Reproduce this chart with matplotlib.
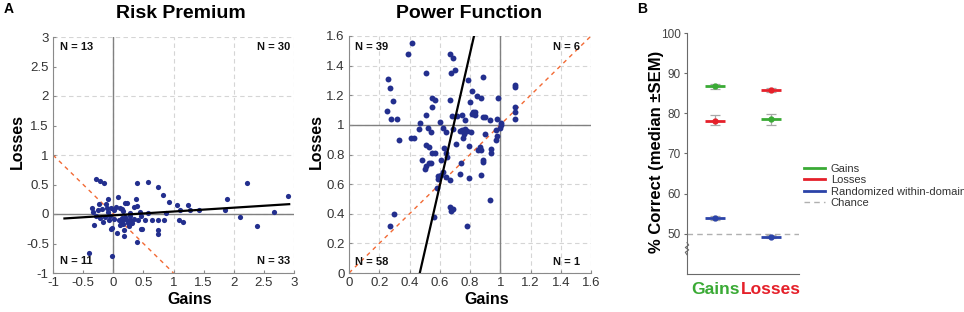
"""Risk premium / power function scatter and decoding accuracy panel."""

import numpy as _np
import matplotlib
matplotlib.use('Agg')
import matplotlib.pyplot as _plt
from matplotlib.ticker import FormatStrFormatter

_plt.rcParams['font.family'] = ['Liberation Sans', 'DejaVu Sans']
_plt.rcParams['axes.unicode_minus'] = False

# --- panel A, left: risk premium (gains vs losses) ---
risk_gains = [-0.29, -0.22, -0.15, -0.36, -0.34, -0.24, -0.25, -0.19, -0.12,
              -0.08, -0.10, -0.09, -0.03,
              -0.40, -0.02, -0.32, -0.22, -0.17, -0.07, -0.02, -0.03, -0.13,
              -0.28, -0.05,
              0.02, 0.08, 0.14, 0.20, 0.22, 0.34, 0.37, 0.39, 0.39, 0.57,
              0.74, 0.82, 0.88, 0.93, 1.05, 1.11, 1.24, 1.28, 1.42, 1.85,
              1.88, 2.22, 2.66, 2.90, 0.12, 0.16, 0.05, 0.28, 0.44, 0.58,
              0.02, 0.07, 0.15, 0.16, 0.17, 0.18, 0.18, 0.22, 0.24, 0.27,
              0.27, 0.31, 0.39, 0.41, 0.46, 0.46, 0.48, 0.53, 0.64, 0.74,
              0.74, 0.74, 0.84, 1.09, 1.15, 2.10, 2.39, 0.10, 0.13, 0.20,
              0.12, 0.26, 0.35]
risk_losses = [0.60, 0.56, 0.53, 0.11, 0.03, 0.17, 0.07, 0.08, 0.17,
               0.26, 0.10, 0.03, 0.10,
               -0.66, -0.71, -0.19, -0.07, -0.14, -0.10, -0.23, -0.26, -0.05,
               -0.03, -0.04,
               0.07, 0.28, 0.09, 0.18, 0.18, 0.12, 0.25, 0.13, 0.53, 0.54,
               0.46, 0.32, 0.01, 0.21, 0.16, 0.07, 0.15, 0.07, 0.07, 0.06,
               0.26, 0.53, 0.03, 0.31, 0.11, 0.05, 0.12, 0.02, 0.03, 0.02,
               -0.08, -0.32, -0.07, -0.11, -0.17, -0.27, -0.38, -0.10, -0.15,
               -0.04, -0.10, -0.15, -0.48, -0.11, -0.04, -0.26, -0.25, -0.11,
               -0.11, -0.11, -0.27, -0.34, -0.11, -0.11, -0.14, -0.05, -0.20,
               -0.10, -0.13, -0.05, -0.18, -0.20, -0.08]
risk_fit = (0.065, -0.023)        # slope, intercept (losses on gains)
risk_fit_range = [-0.81, 2.92]
risk_counts = ['N = 13', 'N = 30', 'N = 11', 'N = 33']

# --- panel A, right: power function exponents ---
power_gains = [0.417, 0.39, 0.26, 0.27, 0.29, 0.25, 0.28, 0.32, 0.51, 0.51,
               0.47, 0.55, 0.57, 0.55, 0.60, 0.667, 0.69, 0.70, 0.675, 0.665,
               0.68, 0.715, 0.745, 0.77, 0.786, 0.81, 0.80, 0.81, 0.82, 0.83,
               0.83, 0.845, 0.883, 0.876, 0.887, 0.90, 0.93, 0.985, 0.98,
               1.10, 1.10, 1.10, 1.10, 1.10, 1.006, 1.004,
               0.33, 0.41, 0.43, 0.46, 0.52, 0.54, 0.62, 0.64, 0.51, 0.53,
               0.55, 0.57, 0.48, 0.50, 0.51, 0.53, 0.54, 0.63, 0.64, 0.65,
               0.61, 0.62, 0.61, 0.59, 0.59, 0.58, 0.64, 0.67, 0.565, 0.67,
               0.675, 0.69, 0.30, 0.27, 0.78, 0.69, 0.705, 0.737, 0.748, 0.757,
               0.76, 0.77, 0.78, 0.74, 0.735, 0.795, 0.795, 0.807, 0.90, 0.867,
               0.876, 0.85, 0.883, 0.887, 0.876, 0.938, 0.936, 0.935, 0.973,
               0.97, 0.98, 0.996]
power_losses = [1.55, 1.476, 1.31, 1.25, 1.16, 1.095, 1.04, 1.04, 1.35, 1.07,
                1.01, 1.18, 1.165, 1.12, 1.02, 1.478, 1.45, 1.37, 1.35, 1.17,
                1.06, 1.06, 1.07, 1.03, 1.30, 1.23, 1.156, 1.075, 1.086, 1.086,
                1.064, 1.197, 1.32, 1.18, 1.05, 1.05, 1.03, 1.18, 1.037,
                1.27, 1.255, 1.12, 1.09, 1.04, 1.012, 0.996,
                0.895, 0.91, 0.91, 0.97, 0.98, 0.95, 0.98, 0.95, 0.865, 0.85,
                0.81, 0.81, 0.76, 0.70, 0.72, 0.74, 0.74, 0.845, 0.81, 0.78,
                0.76, 0.68, 0.66, 0.655, 0.635, 0.575, 0.65, 0.63, 0.38, 0.446,
                0.42, 0.43, 0.40, 0.32, 0.32, 0.97, 0.87, 0.96, 0.965, 0.91,
                0.94, 0.97, 0.96, 0.74, 0.67, 0.86, 0.64, 0.953, 0.94, 0.852,
                0.83, 0.83, 0.764, 0.75, 0.66, 0.834, 0.807, 0.49, 0.965,
                0.90, 0.924, 0.978]
power_fit = (0.468, 0.224)        # intercept, slope (gains on losses)
power_fit_range = [0.0, 1.6]
power_counts = ['N = 39', 'N = 6', 'N = 58', 'N = 1']

# --- panel B: decoding accuracy ---
domains = ['Gains', 'Losses']
acc_gains = [86.7, 78.5]
acc_gains_err = [[0.6, 1.4], [0.6, 1.3]]
acc_losses = [78.2, 85.8]
acc_losses_err = [[1.0, 0.5], [1.4, 0.5]]
acc_random = [54.0, 49.3]
acc_random_err = [[0.5, 0.4], [0.5, 0.4]]
chance = 50
series_names = ['Gains', 'Losses', 'Randomized within-domain', 'Chance']

_dot = '#232F8E'
_orange = '#F26A35'
_green = '#3AAA35'
_red = '#E5202A'
_blue = '#2B43A8'
_tick_col = '#333333'


def style_scatter_axes(ax, lims, ticks, grid):
    """Common MATLAB-like look for the scatter panels."""
    ax.set_xlim(lims[0])
    ax.set_ylim(lims[1])
    ax.set_xticks(ticks[0])
    ax.set_yticks(ticks[1])
    ax.xaxis.set_major_formatter(FormatStrFormatter('%g'))
    ax.yaxis.set_major_formatter(FormatStrFormatter('%g'))
    for g in grid[0]:
        ax.axvline(g, color='#D5D5D5', lw=0.8, ls=(0, (4, 3)), zorder=0)
    for g in grid[1]:
        ax.axhline(g, color='#D5D5D5', lw=0.8, ls=(0, (4, 3)), zorder=0)
    for side in ('top', 'right'):
        ax.spines[side].set_visible(False)
    for side in ('left', 'bottom'):
        ax.spines[side].set_color('#8A8A8A')
        ax.spines[side].set_linewidth(0.8)
    ax.tick_params(direction='in', length=2, color='#8A8A8A',
                   labelsize=9.5, labelcolor=_tick_col, pad=3)


def put_counts(ax, counts, xl, xr, yt, yb):
    """Quadrant counts in the four corners."""
    kw = dict(transform=ax.transAxes, fontsize=8, fontweight='bold',
              color='#111111', va='center')
    ax.text(xl, yt, counts[0], ha='left', **kw)
    ax.text(xr, yt, counts[1], ha='right', **kw)
    ax.text(xl, yb, counts[2], ha='left', **kw)
    ax.text(xr, yb, counts[3], ha='right', **kw)


fig = _plt.figure(figsize=(9.64, 3.12), dpi=100)
W, H = 964.0, 312.0

# risk premium
ax1 = fig.add_axes([53 / W, 39 / H, 241 / W, 236 / H])
style_scatter_axes(ax1, ((-1, 3), (-1, 3)),
                   (_np.arange(-1, 3.01, 0.5), _np.arange(-1, 3.01, 0.5)),
                   (range(-1, 4), range(-1, 4)))
ax1.axvline(0, color='#808080', lw=1, zorder=1)
ax1.axhline(0, color='#808080', lw=1, zorder=1)
ax1.plot([-1, 1], [1, -1], color=_orange, lw=1, ls=(0, (3, 3)), zorder=2)
ax1.scatter(risk_gains, risk_losses, s=14, color=_dot, lw=0, zorder=3)
fx = _np.array(risk_fit_range)
ax1.plot(fx, risk_fit[0] * fx + risk_fit[1], color='black', lw=1.6, zorder=4)
put_counts(ax1, risk_counts, 0.03, 0.983, 0.958, 0.05)

# power function
ax2 = fig.add_axes([349 / W, 39 / H, 242 / W, 237 / H])
pt = _np.round(_np.arange(0, 1.61, 0.2), 1)
style_scatter_axes(ax2, ((0, 1.6), (0, 1.6)), (pt, pt), (pt, pt))
ax2.axvline(1, color='#808080', lw=1, zorder=1)
ax2.axhline(1, color='#808080', lw=1, zorder=1)
ax2.plot([0, 1.6], [0, 1.6], color=_orange, lw=1, ls=(0, (3, 3)), zorder=2)
ax2.scatter(power_gains, power_losses, s=18, color=_dot, lw=0, zorder=3)
fy = _np.array(power_fit_range)
ax2.plot(power_fit[0] + power_fit[1] * fy, fy, color='black', lw=1.6,
         zorder=4)
put_counts(ax2, power_counts, 0.025, 0.955, 0.954, 0.046)

# titles and axis labels
fig.text(181 / W, 1 - 14 / H, 'Risk Premium', ha='center', va='center',
         fontsize=14, fontweight='bold')
fig.text(469 / W, 1 - 14 / H, 'Power Function', ha='center', va='center',
         fontsize=14, fontweight='bold')
for xc in (190, 487):
    fig.text(xc / W, 1 - 300 / H, 'Gains', ha='center', va='center',
             fontsize=11.5, fontweight='bold')
for xc in (17, 316):
    fig.text(xc / W, 1 - 142 / H, 'Losses', ha='center', va='center',
             fontsize=11.5, fontweight='bold', rotation=90)
fig.text(4 / W, 1 - 9 / H, 'A', ha='left', va='center', fontsize=10,
         fontweight='bold')
fig.text(637 / W, 1 - 9 / H, 'B', ha='left', va='center', fontsize=10,
         fontweight='bold')

# accuracy panel
ax3 = fig.add_axes([687 / W, 38 / H, 112 / W, 241 / H])
pos = _np.arange(1, len(domains) + 1)
half = 0.18
handles = []
for vals, err, col in ((acc_gains, acc_gains_err, _green),
                       (acc_losses, acc_losses_err, _red),
                       (acc_random, acc_random_err, _blue)):
    ax3.errorbar(pos, vals, yerr=err, fmt='none', ecolor='#A8A8A8',
                 elinewidth=0.9, capsize=3.5, capthick=0.9, zorder=2)
    ax3.hlines(vals, pos - half, pos + half, color=col, lw=2, zorder=3)
    ax3.plot(pos, vals, 'o', color=col, ms=3.5, zorder=4)
    handles.append(_plt.Line2D([], [], color=col, lw=2))
ax3.plot([0.5, 2.5], [chance, chance], color='#B0B0B0', lw=1,
         ls=(0, (4, 3)), zorder=1)
handles.append(_plt.Line2D([], [], color='#B0B0B0', lw=1, ls=(0, (4, 3))))
ax3.set_xlim(0.5, 2.5)
ax3.set_ylim(40, 100)
ax3.set_yticks(range(50, 101, 10))
ax3.set_xticks(pos)
ax3.set_xticklabels(domains, fontsize=12.5, fontweight='bold')
for lab, col in zip(ax3.get_xticklabels(), (_green, _red)):
    lab.set_color(col)
for side in ('top', 'right'):
    ax3.spines[side].set_visible(False)
for side in ('left', 'bottom'):
    ax3.spines[side].set_color('#6A6A6A')
    ax3.spines[side].set_linewidth(0.8)
ax3.tick_params(axis='y', direction='out', length=2.5, color='#6A6A6A',
                labelsize=8.5, labelcolor='#444444', pad=2)
ax3.tick_params(axis='x', length=0, pad=6)
# axis break marker
zz = _np.array([0, 1, -1, 1, -1, 0]) * 0.015
zy = _np.linspace(0.13, 0.08, 6)
ax3.plot(zz, zy, color='#6A6A6A', lw=0.8, transform=ax3.transAxes,
         clip_on=False)
fig.text(657 / W, 1 - 152 / H, '% Correct (median \u00b1SEM)', ha='center',
         va='center', fontsize=12, fontweight='bold', rotation=90)

fig.legend(handles, series_names, loc='upper left',
           bbox_to_anchor=(804 / W, 1 - 164 / H), frameon=False,
           fontsize=8, labelcolor='#333333', handlelength=1.9,
           handletextpad=0.5, labelspacing=0.12, borderpad=0,
           borderaxespad=0)

fig.savefig('out.png', dpi=100)
